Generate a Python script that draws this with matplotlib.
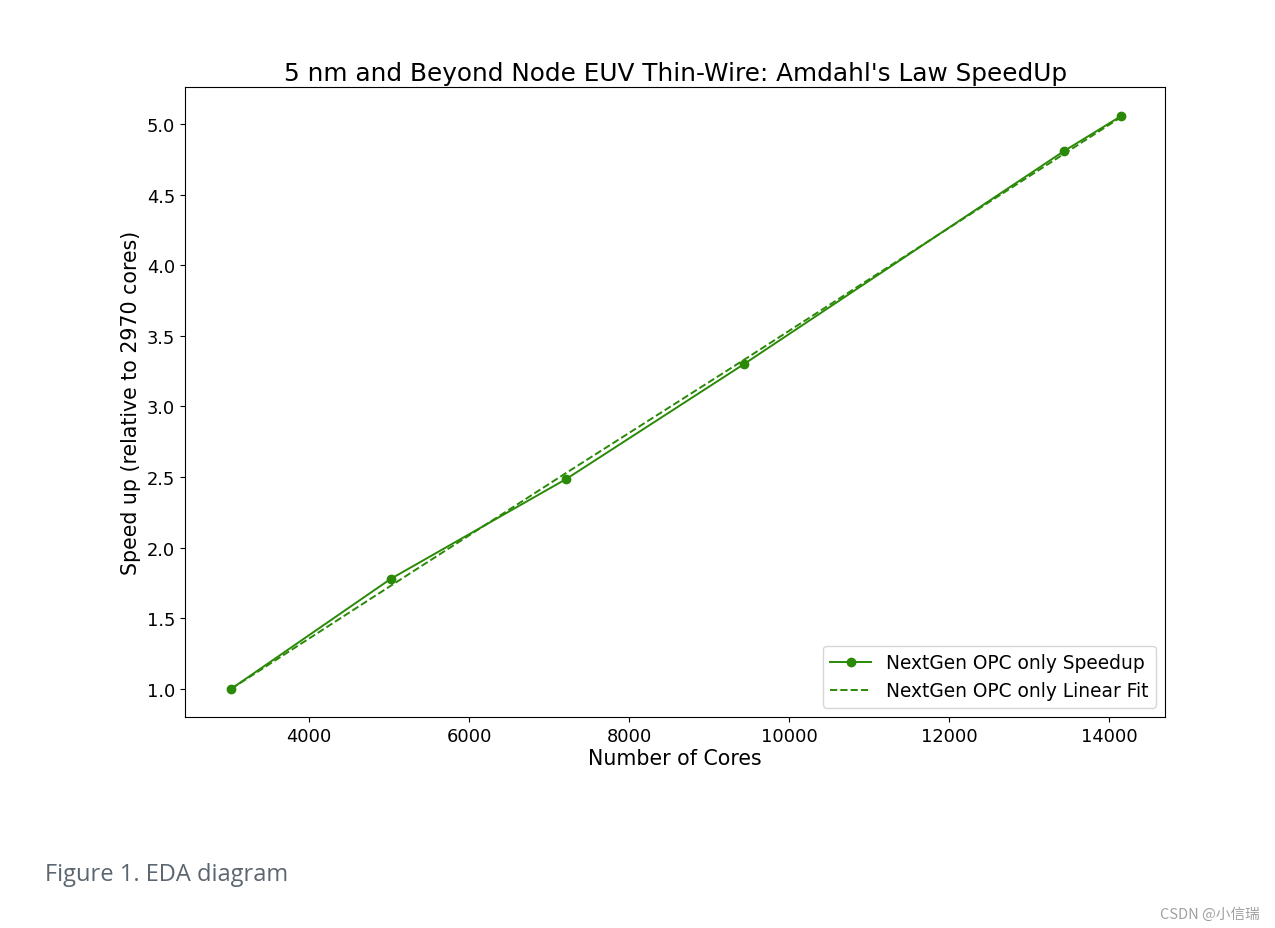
import matplotlib
matplotlib.use("Agg")
import matplotlib.pyplot as plt

cores = [3028, 5022, 7217, 9436, 13439, 14150]
speedup = [1.00, 1.779, 2.487, 3.30, 4.81, 5.057]
fit = [1.00, 1.73, 2.53, 3.33, 4.79, 5.05]

title = "5 nm and Beyond Node EUV Thin-Wire: Amdahl's Law SpeedUp"
xlabel = "Number of Cores"
ylabel = "Speed up (relative to 2970 cores)"
legend_labels = ["NextGen OPC only Speedup", "NextGen OPC only Linear Fit"]
caption = "Figure 1. EDA diagram"
watermark = "CSDN @小信瑞"

green = "#2a8a07"
plt.rcParams['font.family'] = ['DejaVu Sans']

fig = plt.figure(figsize=(12.75, 9.29), dpi=100)
ax = fig.add_axes([0.145, 0.227, 0.769, 0.678])
ax.plot(cores, speedup, '-o', color=green, lw=1.4, ms=6, label=legend_labels[0])
ax.plot(cores, fit, '--', color=green, lw=1.4, label=legend_labels[1])

ax.set_xlim(2450, 14700)
ax.set_ylim(0.80, 5.26)
ax.set_xticks([4000, 6000, 8000, 10000, 12000, 14000])
ax.set_yticks([1.0, 1.5, 2.0, 2.5, 3.0, 3.5, 4.0, 4.5, 5.0])
ax.tick_params(labelsize=12.9)
ax.set_title(title, fontsize=17.8, pad=5)
ax.set_xlabel(xlabel, fontsize=14.8, labelpad=2)
ax.set_ylabel(ylabel, fontsize=14.8)
ax.legend(loc="lower right", fontsize=13.4, handlelength=2.2)

fig.text(0.035, 0.052, caption, fontsize=17, color="#5b6670", family="Open Sans")
fig.text(0.988, 0.011, watermark, fontsize=10.5, color="#a0a0a0", ha="right",
         family=["Noto Sans CJK SC", "DejaVu Sans"])

fig.savefig("out.png", dpi=100)
